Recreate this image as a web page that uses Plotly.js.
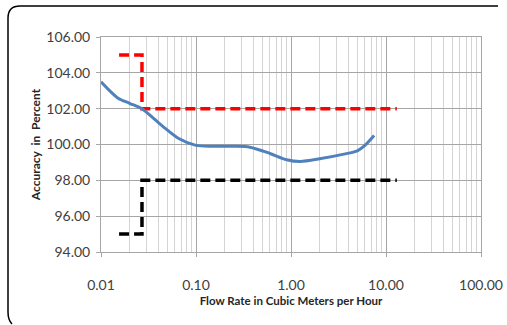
<!DOCTYPE html>
<html>
<head>
<meta charset="utf-8">
<script src="https://cdn.plot.ly/plotly-3.0.1.min.js"></script>
<style>html,body{margin:0;padding:0;background:#fff;}#chart{width:507px;height:325px;}</style>
</head>
<body>
<div id="chart"></div>
<script>
// Measured accuracy curve
var flowRate = [0.01, 0.015, 0.02, 0.027, 0.035, 0.045, 0.065, 0.1, 0.15, 0.25, 0.37, 0.6, 0.9, 1.25, 2, 3.5, 5, 6, 7.5];
var accuracy = [103.5, 102.6, 102.3, 102.0, 101.5, 101.0, 100.35, 99.95, 99.9, 99.9, 99.85, 99.5, 99.15, 99.05, 99.2, 99.45, 99.65, 99.95, 100.5];

// Upper limit (red dashed)
var upperX = [0.0155, 0.027, 0.027, 13];
var upperY = [105, 105, 102, 102];

// Lower limit (black dashed)
var lowerX = [0.0155, 0.027, 0.027, 13];
var lowerY = [95, 95, 98, 98];

var xTickVals = [0.01, 0.1, 1, 10, 100];
var xTickText = ["0.01", "0.10", "1.00", "10.00", "100.00"];
var yTickVals = [94, 96, 98, 100, 102, 104, 106];

var W = 507, H = 325;
var m = {l: 101, r: 26, t: 37, b: 73};
var pw = W - m.l - m.r, ph = H - m.t - m.b;
function px(x) { return (x - m.l) / pw; }
function py(y) { return 1 - (y - m.t) / ph; }

var frame = 'M ' + px(498) + ' ' + py(6) + ' L ' + px(20) + ' ' + py(6) +
  ' Q ' + px(8) + ' ' + py(6) + ' ' + px(8) + ' ' + py(18) +
  ' L ' + px(8) + ' ' + py(312) +
  ' Q ' + px(8) + ' ' + py(320) + ' ' + px(12) + ' ' + py(324);

var fontFam = 'Lato, "Open Sans", sans-serif';

var traces = [
  {x: upperX, y: upperY, mode: 'lines', line: {color: '#ff0000', width: 3.5, dash: '10px,5px'}, hoverinfo: 'skip'},
  {x: lowerX, y: lowerY, mode: 'lines', line: {color: '#000000', width: 3.5, dash: '10px,5px'}, hoverinfo: 'skip'},
  {x: flowRate, y: accuracy, mode: 'lines', line: {color: '#4f81bd', width: 3, shape: 'spline', smoothing: 0.8}}
];

var layout = {
  width: W, height: H,
  margin: m,
  showlegend: false,
  paper_bgcolor: '#ffffff',
  plot_bgcolor: '#ffffff',
  font: {family: fontFam, size: 14, color: '#404040'},
  xaxis: {
    type: 'log',
    range: [-2, 2],
    tickvals: xTickVals,
    ticktext: xTickText,
    showgrid: true,
    gridcolor: '#a6a6a6',
    gridwidth: 1,
    ticks: 'outside', ticklen: 4, tickcolor: '#a6a6a6',
    ticklabelstandoff: 16,
    minor: {dtick: 'D1', showgrid: true, gridcolor: '#d4d4d4', gridwidth: 1, ticks: ''},
    zeroline: false,
    showline: true, linecolor: '#a6a6a6', linewidth: 1, mirror: true,
    tickfont: {family: fontFam, size: 14, color: '#404040'},
    title: {text: 'Flow Rate in Cubic Meters per Hour', font: {family: fontFam, size: 11.5, color: '#262626', weight: 'bold'}, standoff: 5}
  },
  yaxis: {
    range: [94, 106],
    tickvals: yTickVals,
    tickformat: '.2f',
    showgrid: true,
    gridcolor: '#a6a6a6',
    gridwidth: 1,
    ticks: 'outside', ticklen: 4, tickcolor: '#a6a6a6',
    ticklabelstandoff: 3,
    zeroline: false,
    showline: true, linecolor: '#a6a6a6', linewidth: 1, mirror: true,
    tickfont: {family: fontFam, size: 14, color: '#404040'},
    title: {text: 'Accuracy  in  Percent', font: {family: fontFam, size: 12, color: '#262626', weight: 'bold'}, standoff: 3}
  },
  shapes: [
    {type: 'path', xref: 'paper', yref: 'paper', path: frame, line: {color: '#000000', width: 1.5}, layer: 'above'}
  ]
};

Plotly.newPlot('chart', traces, layout, {displayModeBar: false, staticPlot: true});
</script>
</body>
</html>
